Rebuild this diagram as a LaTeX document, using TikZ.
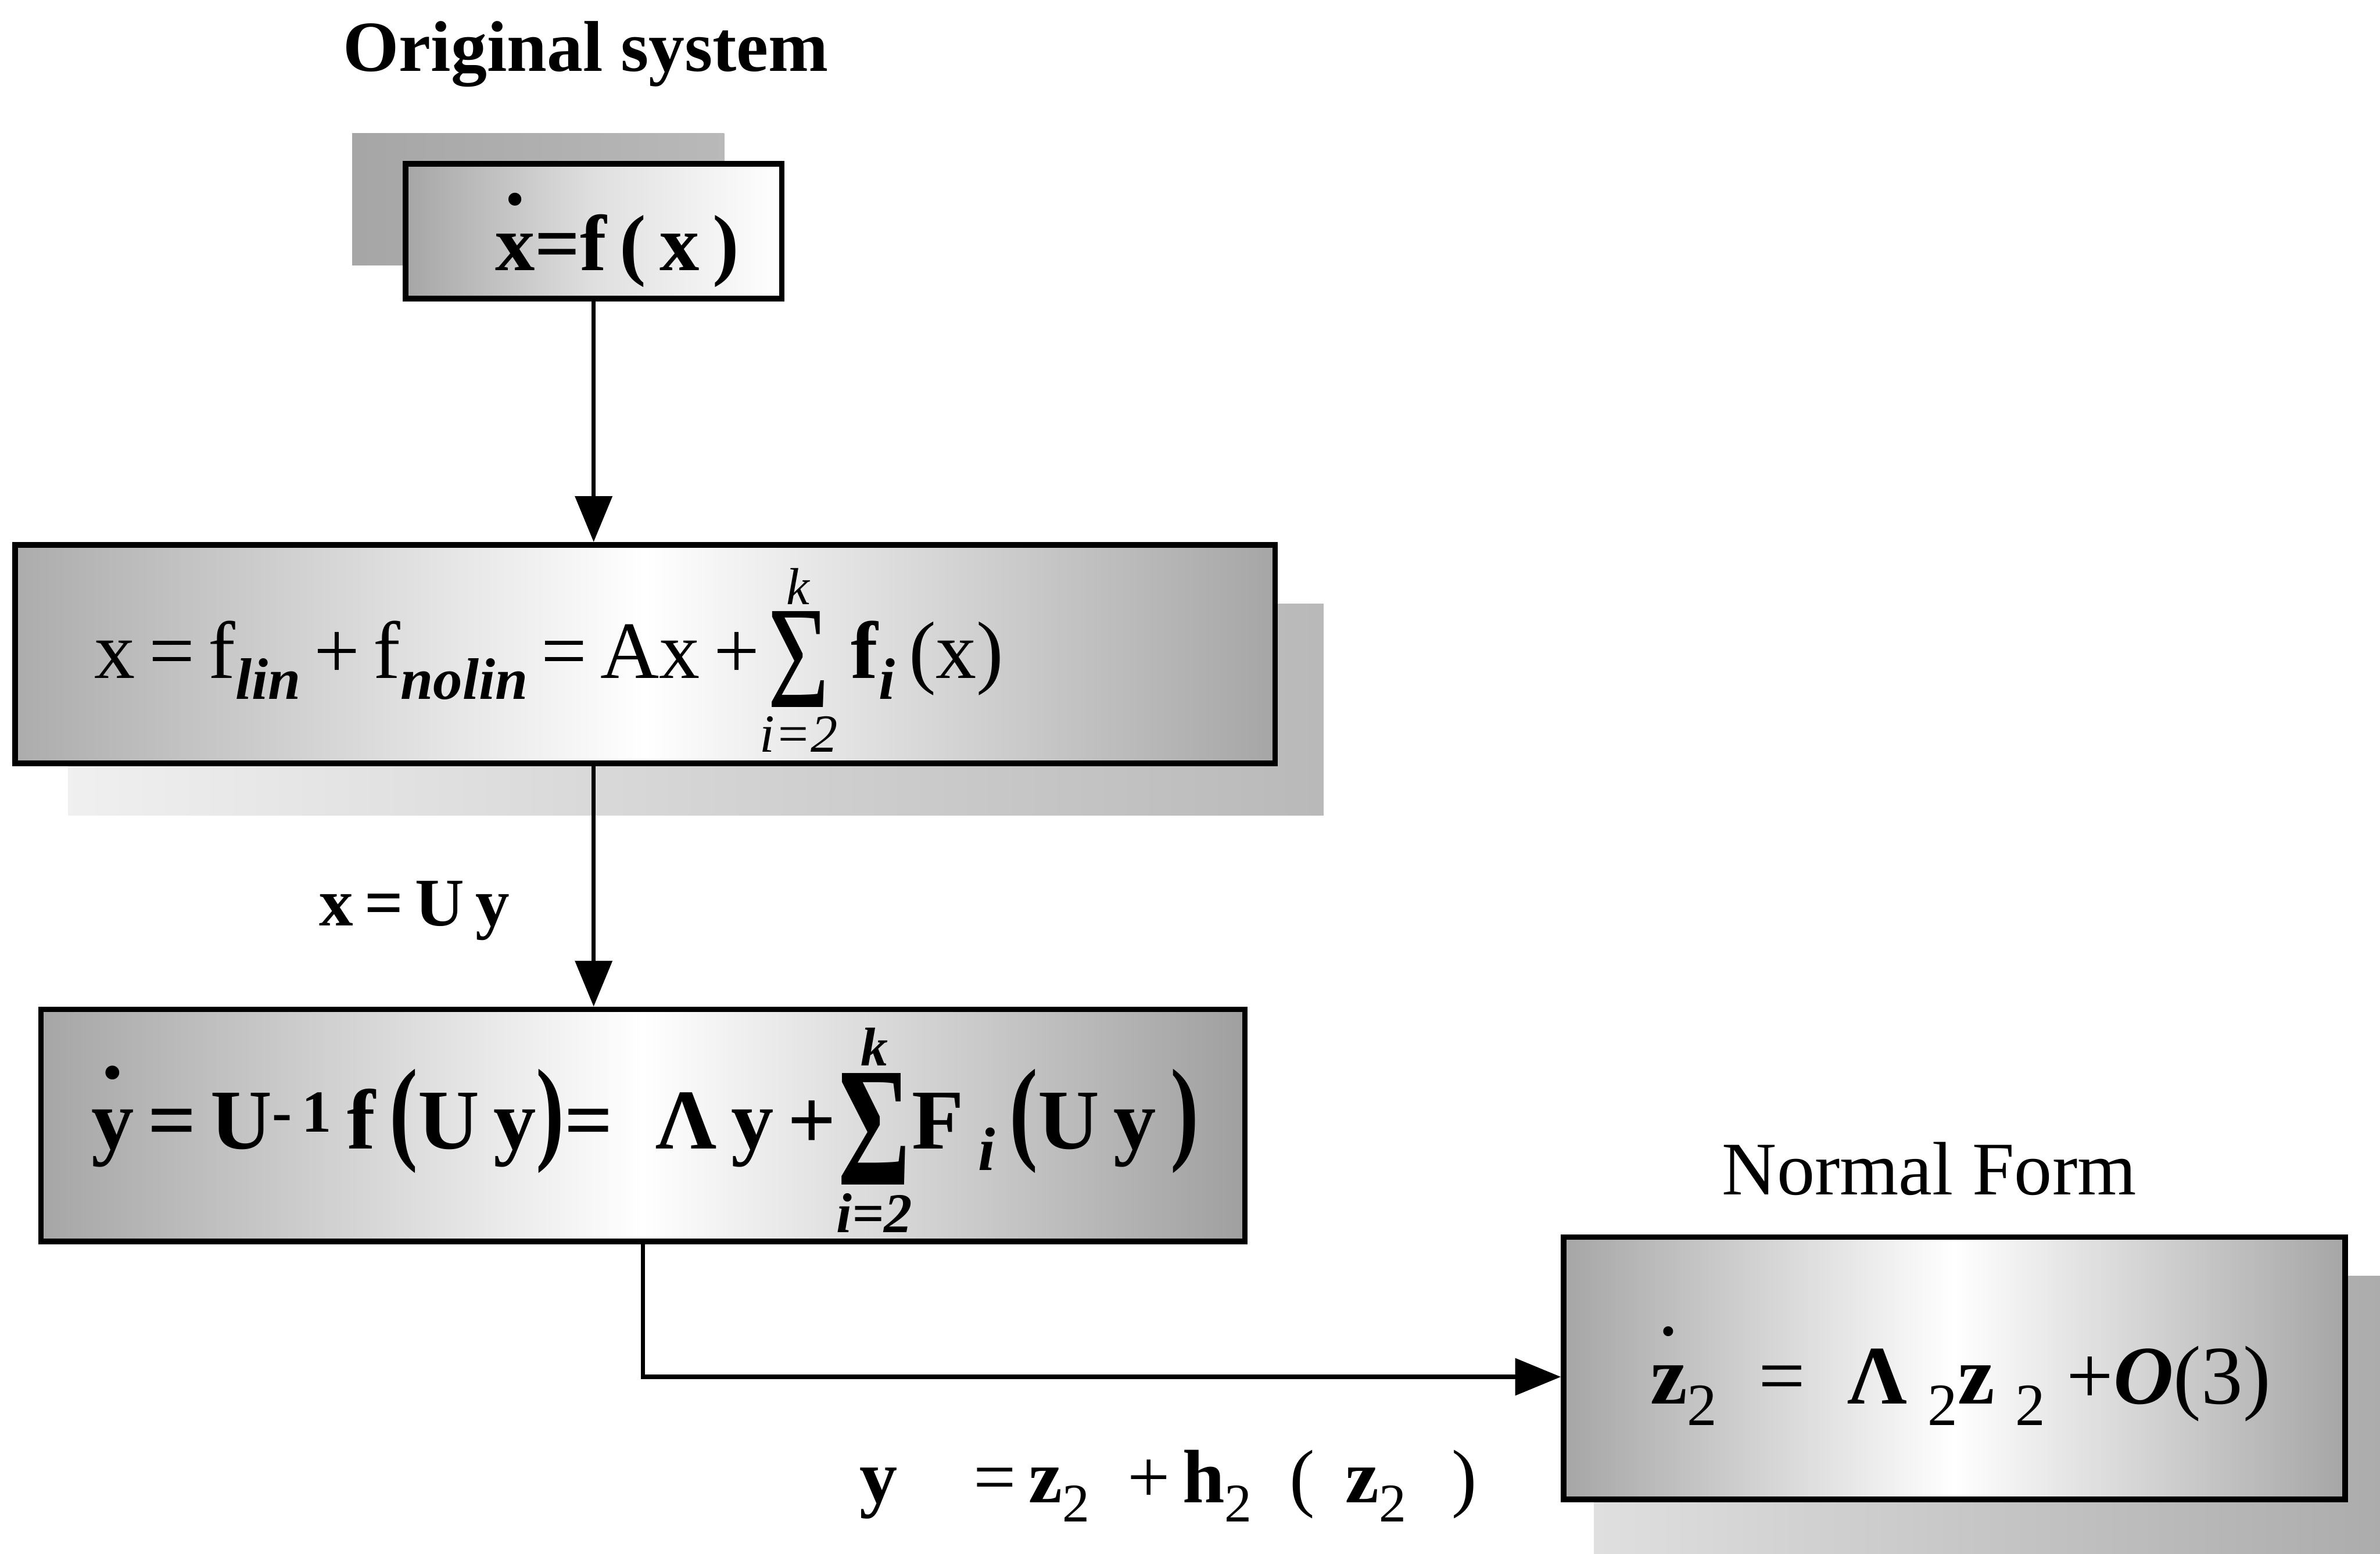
\documentclass[tikz,border=0pt]{standalone}
\usepackage{graphicx}
\usepackage{fontspec}
\setmainfont{Liberation Serif}
\usetikzlibrary{arrows.meta}
\newcommand\dotover[2][1.8ex]{\leavevmode\setbox0\hbox{#2}\rlap{\hbox to \wd0{\hss\raisebox{#1}{.}\hss}}#2}
\newcommand\lo[1]{\raisebox{-0.55ex}{\scalebox{0.72}{#1}}}
\newcommand\bigpar[1]{\scalebox{1}[1.35]{#1}}
\newcommand\bigsum[3][1.8]{\leavevmode\raisebox{0.08em}{\ensuremath{\vcenter{\hbox{\shortstack{\scalebox{0.64}{\textit{#2}}\\[0.02em]\scalebox{1.3}[#1]{Σ}\\[0.04em]\scalebox{0.66}{\textit{#3}}}}}}}}
\begin{document}
\begin{tikzpicture}[x=1cm,y=1cm,
  box/.style={draw=black, line width=3pt, rectangle, inner sep=0pt},
  conn/.style={line width=2.2pt, -{Triangle[length=0.85cm,width=0.68cm]}},
  eq/.style={anchor=base west, inner sep=0pt, font=\fontsize{43}{52}\selectfont},
  lbl/.style={anchor=base, inner sep=0pt},
]
\useasboundingbox[fill=white] (0,0) rectangle (44.2,-28.86);
% shadows
\shade[left color=gray!70, right color=gray!55] (6.54,-2.48) rectangle (13.45,-4.93);
\shade[left color=gray!12, right color=gray!55] (1.27,-11.22) rectangle (24.58,-15.14);
\shade[left color=gray!25, right color=gray!65] (29.6,-23.7) rectangle (44.2,-28.86);
% boxes
\node[box, minimum width=6.99cm, minimum height=2.51cm, left color=gray!70, right color=white, middle color=gray!25] (b1) at (11.025,-4.295) {};
\node[box, minimum width=23.40cm, minimum height=4.06cm, left color=gray!65, right color=gray!70, middle color=white] (b2) at (11.98,-12.15) {};
\node[box, minimum width=22.36cm, minimum height=4.31cm, left color=gray!70, right color=gray!75, middle color=white] (b3) at (11.94,-20.905) {};
\node[box, minimum width=14.51cm, minimum height=4.87cm, left color=gray!70, right color=gray!70, middle color=white] (b4) at (36.295,-25.415) {};
% connectors
\coordinate (b4in) at ([yshift=-0.16cm]b4.west);
\draw[conn] (b1.south) -- (b1.south |- b2.north);
\draw[conn] (b1.south |- b2.south) -- (b1.south |- b3.north);
\draw[conn] (b3.south) |- (b4in);
% titles
\node[lbl, font=\fontsize{38}{44}\selectfont\bfseries] (t1) at (10.88,-1.32) {Original system};
\node[lbl, font=\fontsize{40}{46}\selectfont] (t2) at (35.83,-22.19) {Normal Form};
% equations
\node[eq, font=\fontsize{42}{52}\selectfont\bfseries] (e1) at (9.19,-5.02) {\dotover{x}=f\,(\,x\,)};
\node[eq] (e2) at (1.75,-12.60) {x\,=\,f\lo{\textbf{\textit{lin}}}\,+\,f\lo{\textbf{\textit{nolin}}}\,=\,Ax\,+\bigsum{k}{i=2}\,\textbf{f}\lo{\textbf{\textit{i}}}\,(x)};
\node[eq, font=\fontsize{45}{54}\selectfont\bfseries] (e3) at (1.69,-21.34) {\dotover{y}\,=\,U\textsuperscript{-\,1}\,f\,\bigpar{(}U\,y\bigpar{)}=\ \ Λ\,y\,+\bigsum[2.0]{k}{i=2}F\,\lo{\textit{i}}\,\bigpar{(}U\,y\,\bigpar{)}};
\node[eq, font=\fontsize{44}{52}\selectfont] (e4) at (30.64,-26.08) {\dotover{\textbf{z}}\lo{2}\ \ =\ \ \textbf{Λ}\ \lo{2}\textbf{z}\ \lo{2}\ +\textbf{\textit{O}}(3)};
% transformation labels
\node[anchor=base, inner sep=0pt, font=\fontsize{36}{42}\selectfont\bfseries] (l1) at (7.70,-17.2) {x\,=\,U\,y};
\node[anchor=base west, inner sep=0pt, font=\fontsize{40}{48}\selectfont] (l2) at (15.96,-27.91) {\textbf{y}\hspace{1em}=\,\textbf{z}\lo{2}\hspace{0.5em}+\,\textbf{h}\lo{2}\hspace{0.5em}(\hspace{0.4em}\textbf{z}\lo{2}\hspace{0.6em})};
\end{tikzpicture}
\end{document}
